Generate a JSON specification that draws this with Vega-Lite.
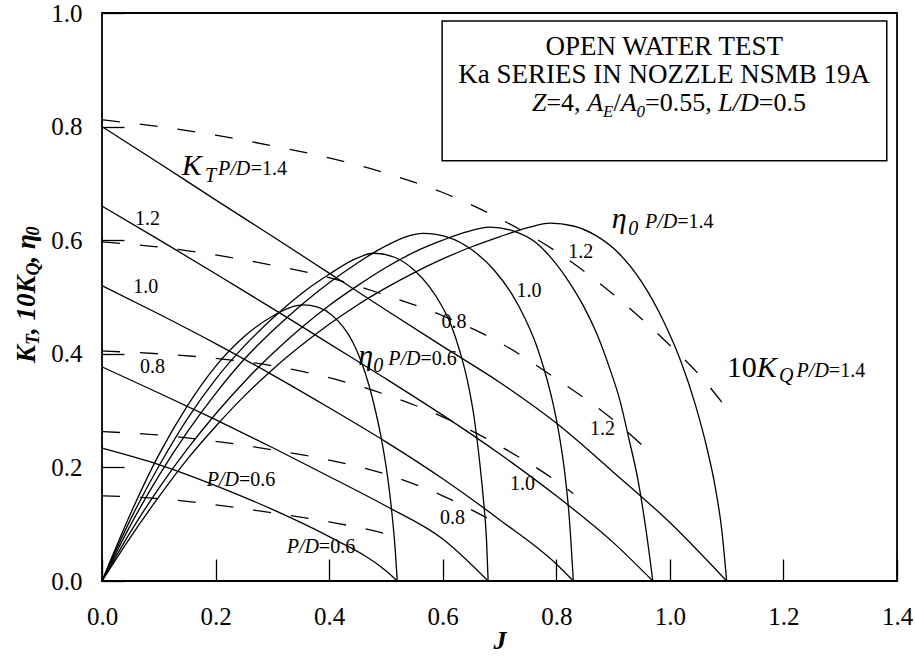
{
  "$schema": "https://vega.github.io/schema/vega-lite/v6.json",
  "width": 795,
  "height": 568,
  "autosize": {"type": "none"},
  "padding": {"left": 102, "top": 13, "right": 18, "bottom": 78},
  "background": "white",
  "config": {
    "view": {"stroke": "#000", "strokeWidth": 1.8},
    "font": "Liberation Serif",
    "axis": {
      "domain": false, "grid": false, "tickColor": "#000", "tickWidth": 1.3, "tickSize": -22,
      "labelFont": "Liberation Serif", "labelFontSize": 25, "labelColor": "#000",
      "labelOverlap": false, "labelFlush": false, "labelBound": false,
      "titleFont": "Liberation Serif", "titleColor": "#000"
    }
  },
  "datasets": {
    "kt": [
      {"pd": "1.4", "x": 0, "y": 0.800}, {"pd": "1.4", "x": 0.1, "y": 0.736}, {"pd": "1.4", "x": 0.2, "y": 0.671}, {"pd": "1.4", "x": 0.3, "y": 0.607}, {"pd": "1.4", "x": 0.4, "y": 0.542}, {"pd": "1.4", "x": 0.5, "y": 0.477}, {"pd": "1.4", "x": 0.6, "y": 0.413}, {"pd": "1.4", "x": 0.7, "y": 0.350}, {"pd": "1.4", "x": 0.8, "y": 0.278}, {"pd": "1.4", "x": 0.9, "y": 0.192}, {"pd": "1.4", "x": 1.0, "y": 0.103}, {"pd": "1.4", "x": 1.1, "y": 0.0},
      {"pd": "1.2", "x": 0, "y": 0.660}, {"pd": "1.2", "x": 0.1, "y": 0.601}, {"pd": "1.2", "x": 0.2, "y": 0.541}, {"pd": "1.2", "x": 0.3, "y": 0.480}, {"pd": "1.2", "x": 0.4, "y": 0.418}, {"pd": "1.2", "x": 0.5, "y": 0.356}, {"pd": "1.2", "x": 0.6, "y": 0.292}, {"pd": "1.2", "x": 0.7, "y": 0.224}, {"pd": "1.2", "x": 0.8, "y": 0.150}, {"pd": "1.2", "x": 0.9, "y": 0.068}, {"pd": "1.2", "x": 0.97, "y": 0.0},
      {"pd": "1.0", "x": 0, "y": 0.520}, {"pd": "1.0", "x": 0.1, "y": 0.470}, {"pd": "1.0", "x": 0.2, "y": 0.418}, {"pd": "1.0", "x": 0.3, "y": 0.363}, {"pd": "1.0", "x": 0.4, "y": 0.305}, {"pd": "1.0", "x": 0.5, "y": 0.245}, {"pd": "1.0", "x": 0.6, "y": 0.180}, {"pd": "1.0", "x": 0.7, "y": 0.108}, {"pd": "1.0", "x": 0.8, "y": 0.030}, {"pd": "1.0", "x": 0.83, "y": 0.0},
      {"pd": "0.8", "x": 0, "y": 0.377}, {"pd": "0.8", "x": 0.1, "y": 0.331}, {"pd": "0.8", "x": 0.2, "y": 0.284}, {"pd": "0.8", "x": 0.3, "y": 0.235}, {"pd": "0.8", "x": 0.4, "y": 0.184}, {"pd": "0.8", "x": 0.5, "y": 0.132}, {"pd": "0.8", "x": 0.6, "y": 0.074}, {"pd": "0.8", "x": 0.68, "y": 0.0},
      {"pd": "0.6", "x": 0, "y": 0.234}, {"pd": "0.6", "x": 0.1, "y": 0.205}, {"pd": "0.6", "x": 0.2, "y": 0.168}, {"pd": "0.6", "x": 0.3, "y": 0.126}, {"pd": "0.6", "x": 0.4, "y": 0.078}, {"pd": "0.6", "x": 0.5, "y": 0.018}, {"pd": "0.6", "x": 0.52, "y": 0.0}
    ],
    "kq": [
      {"pd": "1.4", "x": 0, "y": 0.812}, {"pd": "1.4", "x": 0.1, "y": 0.800}, {"pd": "1.4", "x": 0.2, "y": 0.785}, {"pd": "1.4", "x": 0.3, "y": 0.766}, {"pd": "1.4", "x": 0.4, "y": 0.745}, {"pd": "1.4", "x": 0.5, "y": 0.718}, {"pd": "1.4", "x": 0.6, "y": 0.684}, {"pd": "1.4", "x": 0.7, "y": 0.638}, {"pd": "1.4", "x": 0.8, "y": 0.580}, {"pd": "1.4", "x": 0.9, "y": 0.505}, {"pd": "1.4", "x": 1.0, "y": 0.415}, {"pd": "1.4", "x": 1.05, "y": 0.365}, {"pd": "1.4", "x": 1.1, "y": 0.304},
      {"pd": "1.2", "x": 0, "y": 0.597}, {"pd": "1.2", "x": 0.1, "y": 0.588}, {"pd": "1.2", "x": 0.2, "y": 0.574}, {"pd": "1.2", "x": 0.3, "y": 0.556}, {"pd": "1.2", "x": 0.4, "y": 0.534}, {"pd": "1.2", "x": 0.5, "y": 0.503}, {"pd": "1.2", "x": 0.6, "y": 0.467}, {"pd": "1.2", "x": 0.7, "y": 0.420}, {"pd": "1.2", "x": 0.8, "y": 0.356}, {"pd": "1.2", "x": 0.9, "y": 0.284}, {"pd": "1.2", "x": 0.97, "y": 0.222},
      {"pd": "1.0", "x": 0, "y": 0.405}, {"pd": "1.0", "x": 0.1, "y": 0.400}, {"pd": "1.0", "x": 0.2, "y": 0.392}, {"pd": "1.0", "x": 0.3, "y": 0.379}, {"pd": "1.0", "x": 0.4, "y": 0.358}, {"pd": "1.0", "x": 0.5, "y": 0.328}, {"pd": "1.0", "x": 0.6, "y": 0.289}, {"pd": "1.0", "x": 0.7, "y": 0.238}, {"pd": "1.0", "x": 0.8, "y": 0.176}, {"pd": "1.0", "x": 0.83, "y": 0.154},
      {"pd": "0.8", "x": 0, "y": 0.263}, {"pd": "0.8", "x": 0.1, "y": 0.257}, {"pd": "0.8", "x": 0.2, "y": 0.246}, {"pd": "0.8", "x": 0.3, "y": 0.231}, {"pd": "0.8", "x": 0.4, "y": 0.213}, {"pd": "0.8", "x": 0.5, "y": 0.188}, {"pd": "0.8", "x": 0.6, "y": 0.150}, {"pd": "0.8", "x": 0.68, "y": 0.110},
      {"pd": "0.6", "x": 0, "y": 0.150}, {"pd": "0.6", "x": 0.1, "y": 0.145}, {"pd": "0.6", "x": 0.2, "y": 0.134}, {"pd": "0.6", "x": 0.3, "y": 0.120}, {"pd": "0.6", "x": 0.4, "y": 0.104}, {"pd": "0.6", "x": 0.5, "y": 0.083}, {"pd": "0.6", "x": 0.52, "y": 0.077}
    ],
    "eta": [
      {"pd": "0.6", "x": 0, "y": 0}, {"pd": "0.6", "x": 0.05, "y": 0.118}, {"pd": "0.6", "x": 0.1, "y": 0.222}, {"pd": "0.6", "x": 0.15, "y": 0.308}, {"pd": "0.6", "x": 0.2, "y": 0.378}, {"pd": "0.6", "x": 0.25, "y": 0.430}, {"pd": "0.6", "x": 0.3, "y": 0.466}, {"pd": "0.6", "x": 0.33, "y": 0.481}, {"pd": "0.6", "x": 0.354, "y": 0.486}, {"pd": "0.6", "x": 0.38, "y": 0.482}, {"pd": "0.6", "x": 0.405, "y": 0.468}, {"pd": "0.6", "x": 0.425, "y": 0.447}, {"pd": "0.6", "x": 0.442, "y": 0.42}, {"pd": "0.6", "x": 0.457, "y": 0.385}, {"pd": "0.6", "x": 0.47, "y": 0.345}, {"pd": "0.6", "x": 0.482, "y": 0.298}, {"pd": "0.6", "x": 0.493, "y": 0.245}, {"pd": "0.6", "x": 0.502, "y": 0.19}, {"pd": "0.6", "x": 0.51, "y": 0.125}, {"pd": "0.6", "x": 0.516, "y": 0.06}, {"pd": "0.6", "x": 0.52, "y": 0},
      {"pd": "0.8", "x": 0, "y": 0}, {"pd": "0.8", "x": 0.05, "y": 0.108}, {"pd": "0.8", "x": 0.1, "y": 0.202}, {"pd": "0.8", "x": 0.15, "y": 0.285}, {"pd": "0.8", "x": 0.2, "y": 0.355}, {"pd": "0.8", "x": 0.25, "y": 0.413}, {"pd": "0.8", "x": 0.3, "y": 0.462}, {"pd": "0.8", "x": 0.35, "y": 0.505}, {"pd": "0.8", "x": 0.4, "y": 0.540}, {"pd": "0.8", "x": 0.44, "y": 0.564}, {"pd": "0.8", "x": 0.478, "y": 0.577}, {"pd": "0.8", "x": 0.515, "y": 0.570}, {"pd": "0.8", "x": 0.55, "y": 0.547}, {"pd": "0.8", "x": 0.575, "y": 0.52}, {"pd": "0.8", "x": 0.598, "y": 0.485}, {"pd": "0.8", "x": 0.615, "y": 0.45}, {"pd": "0.8", "x": 0.63, "y": 0.405}, {"pd": "0.8", "x": 0.643, "y": 0.355}, {"pd": "0.8", "x": 0.655, "y": 0.29}, {"pd": "0.8", "x": 0.665, "y": 0.21}, {"pd": "0.8", "x": 0.672, "y": 0.14}, {"pd": "0.8", "x": 0.677, "y": 0.075}, {"pd": "0.8", "x": 0.68, "y": 0},
      {"pd": "1.0", "x": 0, "y": 0}, {"pd": "1.0", "x": 0.05, "y": 0.098}, {"pd": "1.0", "x": 0.1, "y": 0.185}, {"pd": "1.0", "x": 0.15, "y": 0.262}, {"pd": "1.0", "x": 0.2, "y": 0.330}, {"pd": "1.0", "x": 0.25, "y": 0.390}, {"pd": "1.0", "x": 0.3, "y": 0.440}, {"pd": "1.0", "x": 0.35, "y": 0.485}, {"pd": "1.0", "x": 0.4, "y": 0.525}, {"pd": "1.0", "x": 0.45, "y": 0.560}, {"pd": "1.0", "x": 0.5, "y": 0.590}, {"pd": "1.0", "x": 0.566, "y": 0.612}, {"pd": "1.0", "x": 0.61, "y": 0.605}, {"pd": "1.0", "x": 0.65, "y": 0.584}, {"pd": "1.0", "x": 0.69, "y": 0.548}, {"pd": "1.0", "x": 0.72, "y": 0.508}, {"pd": "1.0", "x": 0.745, "y": 0.462}, {"pd": "1.0", "x": 0.765, "y": 0.415}, {"pd": "1.0", "x": 0.78, "y": 0.368}, {"pd": "1.0", "x": 0.793, "y": 0.318}, {"pd": "1.0", "x": 0.805, "y": 0.258}, {"pd": "1.0", "x": 0.815, "y": 0.19}, {"pd": "1.0", "x": 0.823, "y": 0.11}, {"pd": "1.0", "x": 0.83, "y": 0},
      {"pd": "1.2", "x": 0, "y": 0}, {"pd": "1.2", "x": 0.05, "y": 0.086}, {"pd": "1.2", "x": 0.1, "y": 0.163}, {"pd": "1.2", "x": 0.15, "y": 0.232}, {"pd": "1.2", "x": 0.2, "y": 0.294}, {"pd": "1.2", "x": 0.25, "y": 0.350}, {"pd": "1.2", "x": 0.3, "y": 0.400}, {"pd": "1.2", "x": 0.35, "y": 0.445}, {"pd": "1.2", "x": 0.4, "y": 0.485}, {"pd": "1.2", "x": 0.45, "y": 0.520}, {"pd": "1.2", "x": 0.5, "y": 0.552}, {"pd": "1.2", "x": 0.55, "y": 0.579}, {"pd": "1.2", "x": 0.6, "y": 0.600}, {"pd": "1.2", "x": 0.64, "y": 0.614}, {"pd": "1.2", "x": 0.683, "y": 0.623}, {"pd": "1.2", "x": 0.725, "y": 0.616}, {"pd": "1.2", "x": 0.765, "y": 0.595}, {"pd": "1.2", "x": 0.795, "y": 0.564}, {"pd": "1.2", "x": 0.824, "y": 0.524}, {"pd": "1.2", "x": 0.848, "y": 0.484}, {"pd": "1.2", "x": 0.871, "y": 0.436}, {"pd": "1.2", "x": 0.892, "y": 0.38}, {"pd": "1.2", "x": 0.912, "y": 0.318}, {"pd": "1.2", "x": 0.928, "y": 0.25}, {"pd": "1.2", "x": 0.944, "y": 0.177}, {"pd": "1.2", "x": 0.958, "y": 0.09}, {"pd": "1.2", "x": 0.97, "y": 0},
      {"pd": "1.4", "x": 0, "y": 0}, {"pd": "1.4", "x": 0.05, "y": 0.077}, {"pd": "1.4", "x": 0.1, "y": 0.148}, {"pd": "1.4", "x": 0.15, "y": 0.214}, {"pd": "1.4", "x": 0.2, "y": 0.272}, {"pd": "1.4", "x": 0.25, "y": 0.325}, {"pd": "1.4", "x": 0.3, "y": 0.372}, {"pd": "1.4", "x": 0.35, "y": 0.414}, {"pd": "1.4", "x": 0.4, "y": 0.452}, {"pd": "1.4", "x": 0.45, "y": 0.486}, {"pd": "1.4", "x": 0.5, "y": 0.516}, {"pd": "1.4", "x": 0.55, "y": 0.543}, {"pd": "1.4", "x": 0.6, "y": 0.567}, {"pd": "1.4", "x": 0.65, "y": 0.588}, {"pd": "1.4", "x": 0.7, "y": 0.606}, {"pd": "1.4", "x": 0.75, "y": 0.622}, {"pd": "1.4", "x": 0.789, "y": 0.630}, {"pd": "1.4", "x": 0.83, "y": 0.625}, {"pd": "1.4", "x": 0.87, "y": 0.608}, {"pd": "1.4", "x": 0.91, "y": 0.577}, {"pd": "1.4", "x": 0.95, "y": 0.527}, {"pd": "1.4", "x": 0.99, "y": 0.455}, {"pd": "1.4", "x": 1.02, "y": 0.385}, {"pd": "1.4", "x": 1.045, "y": 0.31}, {"pd": "1.4", "x": 1.065, "y": 0.235}, {"pd": "1.4", "x": 1.08, "y": 0.165}, {"pd": "1.4", "x": 1.092, "y": 0.085}, {"pd": "1.4", "x": 1.1, "y": 0}
    ],
    "box": [{"x": 0.599, "x2": 1.382, "y": 0.740, "y2": 0.986}],
    "boxTitle": [
      {"x": 0.990, "y": 0.9265, "label": "OPEN WATER TEST"},
      {"x": 0.990, "y": 0.8771, "label": "Ka SERIES IN NOZZLE NSMB 19A"}
    ],
    "boxReg": [
      {"x": 0.7827, "y": 0.8277, "label": "=4,"},
      {"x": 0.9007, "y": 0.8277, "label": "/"},
      {"x": 0.9563, "y": 0.8277, "label": "=0.55,"},
      {"x": 1.1565, "y": 0.8277, "label": "=0.5"}
    ],
    "boxItal": [
      {"x": 0.7572, "y": 0.8277, "label": "Z"},
      {"x": 0.8544, "y": 0.8277, "label": "A"},
      {"x": 0.9134, "y": 0.8277, "label": "A"},
      {"x": 1.0852, "y": 0.8277, "label": "L/D"}
    ],
    "boxSub": [
      {"x": 0.8824, "y": 0.8171, "label": "E"},
      {"x": 0.9414, "y": 0.8171, "label": "0"}
    ],
    "bigItal": [
      {"x": 0.1403, "y": 0.715, "label": "K"},
      {"x": 1.1528, "y": 0.3595, "label": "K"},
      {"x": 0.8975, "y": 0.621, "label": "η"},
      {"x": 0.4513, "y": 0.380, "label": "η"}
    ],
    "bigReg": [
      {"x": 1.100, "y": 0.3595, "label": "10"}
    ],
    "subItal": [
      {"x": 0.1814, "y": 0.703, "label": "T"},
      {"x": 1.192, "y": 0.351, "label": "Q"},
      {"x": 0.9268, "y": 0.609, "label": "0"},
      {"x": 0.4778, "y": 0.368, "label": "0"}
    ],
    "smallItal": [
      {"x": 0.2043, "y": 0.715, "label": "P/D"},
      {"x": 0.1844, "y": 0.1669, "label": "P/D"},
      {"x": 1.2232, "y": 0.3595, "label": "P/D"},
      {"x": 0.3252, "y": 0.0494, "label": "P/D"},
      {"x": 0.9561, "y": 0.621, "label": "P/D"},
      {"x": 0.5041, "y": 0.380, "label": "P/D"}
    ],
    "smallReg": [
      {"x": 0.262, "y": 0.715, "label": "=1.4"},
      {"x": 0.2411, "y": 0.1669, "label": "=0.6"},
      {"x": 1.280, "y": 0.3595, "label": "=1.4"},
      {"x": 0.3819, "y": 0.0494, "label": "=0.6"},
      {"x": 1.0129, "y": 0.621, "label": "=1.4"},
      {"x": 0.5608, "y": 0.380, "label": "=0.6"},
      {"x": 0.058, "y": 0.627, "label": "1.2"},
      {"x": 0.0551, "y": 0.5076, "label": "1.0"},
      {"x": 0.0669, "y": 0.3656, "label": "0.8"},
      {"x": 0.8593, "y": 0.2568, "label": "1.2"},
      {"x": 0.7184, "y": 0.161, "label": "1.0"},
      {"x": 0.5952, "y": 0.1004, "label": "0.8"},
      {"x": 0.821, "y": 0.568, "label": "1.2"},
      {"x": 0.730, "y": 0.5005, "label": "1.0"},
      {"x": 0.598, "y": 0.446, "label": "0.8"}
    ],
    "yTitle": [
      {"x": -0.118, "y": 0.3837, "label": "K"},
      {"x": -0.118, "y": 0.4348, "label": ", 10K"},
      {"x": -0.118, "y": 0.5608, "label": ", η"}
    ],
    "yTitleSub": [
      {"x": -0.111, "y": 0.4154, "label": "T"},
      {"x": -0.111, "y": 0.5379, "label": "Q"},
      {"x": -0.111, "y": 0.6084, "label": "0"}
    ]
  },
  "layer": [
    {
      "data": {"name": "kt"},
      "mark": {"type": "line", "color": "#000", "strokeWidth": 1.3, "interpolate": "monotone"},
      "encoding": {
        "x": {"field": "x", "type": "quantitative", "scale": {"domain": [0, 1.4], "nice": false, "zero": false},
              "axis": {"values": [0, 0.2, 0.4, 0.6, 0.8, 1, 1.2, 1.4], "format": ".1f", "labelPadding": 45, "title": "J", "titleFontSize": 26, "titleFontStyle": "italic", "titleFontWeight": "bold", "titlePadding": -2}},
        "y": {"field": "y", "type": "quantitative", "scale": {"domain": [0, 1], "nice": false},
              "axis": {"values": [0, 0.2, 0.4, 0.6, 0.8, 1], "format": ".1f", "labelPadding": 42, "title": null}},
        "detail": {"field": "pd", "type": "nominal"}
      }
    },
    {
      "data": {"name": "kq"},
      "mark": {"type": "line", "color": "#000", "strokeWidth": 1.3, "strokeDash": [18, 20], "interpolate": "monotone"},
      "encoding": {
        "x": {"field": "x", "type": "quantitative"},
        "y": {"field": "y", "type": "quantitative"},
        "detail": {"field": "pd", "type": "nominal"}
      }
    },
    {
      "data": {"name": "eta"},
      "mark": {"type": "line", "color": "#000", "strokeWidth": 1.3, "interpolate": "monotone"},
      "encoding": {
        "x": {"field": "x", "type": "quantitative"},
        "y": {"field": "y", "type": "quantitative"},
        "detail": {"field": "pd", "type": "nominal"}
      }
    },
    {
      "data": {"name": "box"},
      "mark": {"type": "rect", "fill": "white", "stroke": "#000", "strokeWidth": 1.5},
      "encoding": {
        "x": {"field": "x", "type": "quantitative"}, "x2": {"field": "x2"},
        "y": {"field": "y", "type": "quantitative"}, "y2": {"field": "y2"}
      }
    },
    {
      "data": {"name": "boxTitle"},
      "mark": {"type": "text", "font": "Liberation Serif", "fontSize": 27, "align": "center", "baseline": "alphabetic", "color": "#000"},
      "encoding": {"x": {"field": "x", "type": "quantitative"}, "y": {"field": "y", "type": "quantitative"}, "text": {"field": "label"}}
    },
    {
      "data": {"name": "boxReg"},
      "mark": {"type": "text", "font": "Liberation Serif", "fontSize": 26, "align": "left", "baseline": "alphabetic", "color": "#000"},
      "encoding": {"x": {"field": "x", "type": "quantitative"}, "y": {"field": "y", "type": "quantitative"}, "text": {"field": "label"}}
    },
    {
      "data": {"name": "boxItal"},
      "mark": {"type": "text", "font": "Liberation Serif", "fontSize": 26, "fontStyle": "italic", "align": "left", "baseline": "alphabetic", "color": "#000"},
      "encoding": {"x": {"field": "x", "type": "quantitative"}, "y": {"field": "y", "type": "quantitative"}, "text": {"field": "label"}}
    },
    {
      "data": {"name": "boxSub"},
      "mark": {"type": "text", "font": "Liberation Serif", "fontSize": 17, "fontStyle": "italic", "align": "left", "baseline": "alphabetic", "color": "#000"},
      "encoding": {"x": {"field": "x", "type": "quantitative"}, "y": {"field": "y", "type": "quantitative"}, "text": {"field": "label"}}
    },
    {
      "data": {"name": "bigItal"},
      "mark": {"type": "text", "font": "Liberation Serif", "fontSize": 30, "fontStyle": "italic", "align": "left", "baseline": "alphabetic", "color": "#000"},
      "encoding": {"x": {"field": "x", "type": "quantitative"}, "y": {"field": "y", "type": "quantitative"}, "text": {"field": "label"}}
    },
    {
      "data": {"name": "bigReg"},
      "mark": {"type": "text", "font": "Liberation Serif", "fontSize": 30, "align": "left", "baseline": "alphabetic", "color": "#000"},
      "encoding": {"x": {"field": "x", "type": "quantitative"}, "y": {"field": "y", "type": "quantitative"}, "text": {"field": "label"}}
    },
    {
      "data": {"name": "subItal"},
      "mark": {"type": "text", "font": "Liberation Serif", "fontSize": 20, "fontStyle": "italic", "align": "left", "baseline": "alphabetic", "color": "#000"},
      "encoding": {"x": {"field": "x", "type": "quantitative"}, "y": {"field": "y", "type": "quantitative"}, "text": {"field": "label"}}
    },
    {
      "data": {"name": "smallItal"},
      "mark": {"type": "text", "font": "Liberation Serif", "fontSize": 20, "fontStyle": "italic", "align": "left", "baseline": "alphabetic", "color": "#000"},
      "encoding": {"x": {"field": "x", "type": "quantitative"}, "y": {"field": "y", "type": "quantitative"}, "text": {"field": "label"}}
    },
    {
      "data": {"name": "smallReg"},
      "mark": {"type": "text", "font": "Liberation Serif", "fontSize": 20, "align": "left", "baseline": "alphabetic", "color": "#000"},
      "encoding": {"x": {"field": "x", "type": "quantitative"}, "y": {"field": "y", "type": "quantitative"}, "text": {"field": "label"}}
    },
    {
      "data": {"name": "yTitle"},
      "mark": {"type": "text", "font": "Liberation Serif", "fontSize": 27, "fontStyle": "italic", "fontWeight": "bold", "angle": 270, "align": "left", "baseline": "alphabetic", "color": "#000"},
      "encoding": {"x": {"field": "x", "type": "quantitative"}, "y": {"field": "y", "type": "quantitative"}, "text": {"field": "label"}}
    },
    {
      "data": {"name": "yTitleSub"},
      "mark": {"type": "text", "font": "Liberation Serif", "fontSize": 18, "fontStyle": "italic", "fontWeight": "bold", "angle": 270, "align": "left", "baseline": "alphabetic", "color": "#000"},
      "encoding": {"x": {"field": "x", "type": "quantitative"}, "y": {"field": "y", "type": "quantitative"}, "text": {"field": "label"}}
    }
  ]
}
